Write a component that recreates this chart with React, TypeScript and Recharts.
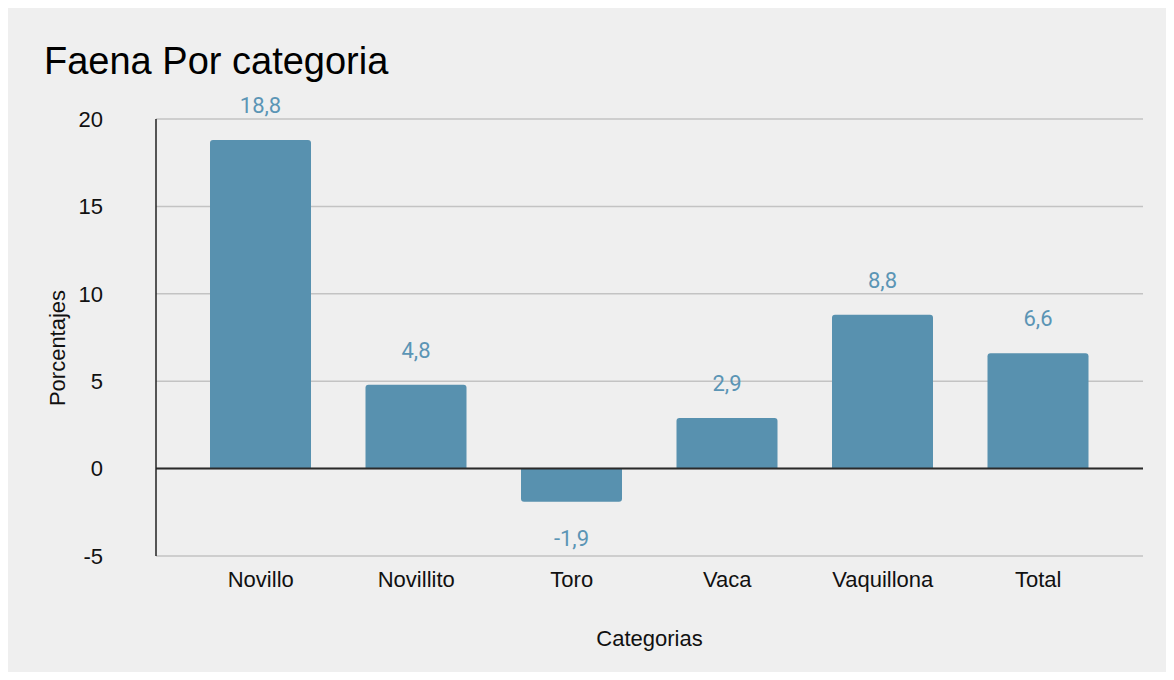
import { BarChart, Bar, XAxis, YAxis, CartesianGrid, ReferenceLine, LabelList, Label } from 'recharts';

const categories = ['Novillo', 'Novillito', 'Toro', 'Vaca', 'Vaquillona', 'Total'];
const porcentajes = [18.8, 4.8, -1.9, 2.9, 8.8, 6.6];
const yTicks = [-5, 0, 5, 10, 15, 20];

const chartData = categories.map((name, i) => ({ name, value: porcentajes[i] }));

const BAR_COLOR = '#5891af';
const LABEL_COLOR = '#5b95b5';
const FONT = '"Liberation Sans", Arial, sans-serif';

const formatValue = (v: number) => v.toFixed(1).replace('.', ',');

const ValueLabel = (props: any) => {
    const { x, y, width, height, value } = props;
    const top = Math.min(Number(y), Number(y) + Number(height));
    const bottom = Math.max(Number(y), Number(y) + Number(height));
    const cy = Number(value) >= 0 ? top - 35 : bottom + 36;
    return (
        <text
            x={Number(x) + Number(width) / 2}
            y={cy}
            dy="0.36em"
            textAnchor="middle"
            fill={LABEL_COLOR}
            fontSize={22}
            fontFamily="Roboto, sans-serif"
        >
            {formatValue(Number(value))}
        </text>
    );
};

export default function App() {
    return (
        <div style={{ position: 'relative', width: 1159, height: 666, background: '#efefef', marginTop: -2, marginLeft: -1 }}>
            <div
                style={{
                    position: 'absolute',
                    left: 37,
                    top: 36,
                    fontFamily: FONT,
                    fontSize: 38,
                    lineHeight: '38px',
                    color: '#000',
                    whiteSpace: 'nowrap',
                }}
            >
                Faena Por categoria
            </div>
            <BarChart
                width={1159}
                height={666}
                data={chartData}
                margin={{ top: 113, right: 23, bottom: 56, left: 0 }}
                style={{ position: 'absolute', left: 0, top: 0 }}
            >
                <CartesianGrid vertical={false} stroke="#c3c3c3" strokeWidth={1.5} />
                <XAxis
                    dataKey="name"
                    height={60}
                    axisLine={false}
                    tickLine={false}
                    tickSize={0}
                    tickMargin={15}
                    padding={{ left: 27, right: 27 }}
                    tick={{ fill: '#111', fontSize: 22, fontFamily: FONT }}
                    interval={0}
                >
                    <Label
                        content={(p: any) => {
                            const vb = p.viewBox;
                            return (
                                <text
                                    x={vb.x + vb.width / 2}
                                    y={632}
                                    dy="0.36em"
                                    textAnchor="middle"
                                    fontSize={22}
                                    fontFamily={FONT}
                                    fill="#111"
                                >
                                    Categorias
                                </text>
                            );
                        }}
                    />
                </XAxis>
                <YAxis
                    width={149}
                    domain={[-5, 20]}
                    ticks={yTicks}
                    tickLine={false}
                    tickSize={0}
                    tickMargin={53}
                    axisLine={{ stroke: '#222', strokeWidth: 1.5 }}
                    tick={{ fill: '#111', fontSize: 22, fontFamily: FONT }}
                >
                    <Label
                        content={() => (
                            <text
                                x={50}
                                y={342}
                                dy="0.36em"
                                textAnchor="middle"
                                fontSize={22}
                                fontFamily={FONT}
                                fill="#111"
                                transform="rotate(-90 50 342)"
                            >
                                Porcentajes
                            </text>
                        )}
                    />
                </YAxis>
                <Bar dataKey="value" fill={BAR_COLOR} barSize={101} radius={[3, 3, 0, 0]} isAnimationActive={false}>
                    <LabelList dataKey="value" content={<ValueLabel />} />
                </Bar>
                <ReferenceLine y={0} stroke="#2a2a2a" strokeWidth={2} />
            </BarChart>
        </div>
    );
}
